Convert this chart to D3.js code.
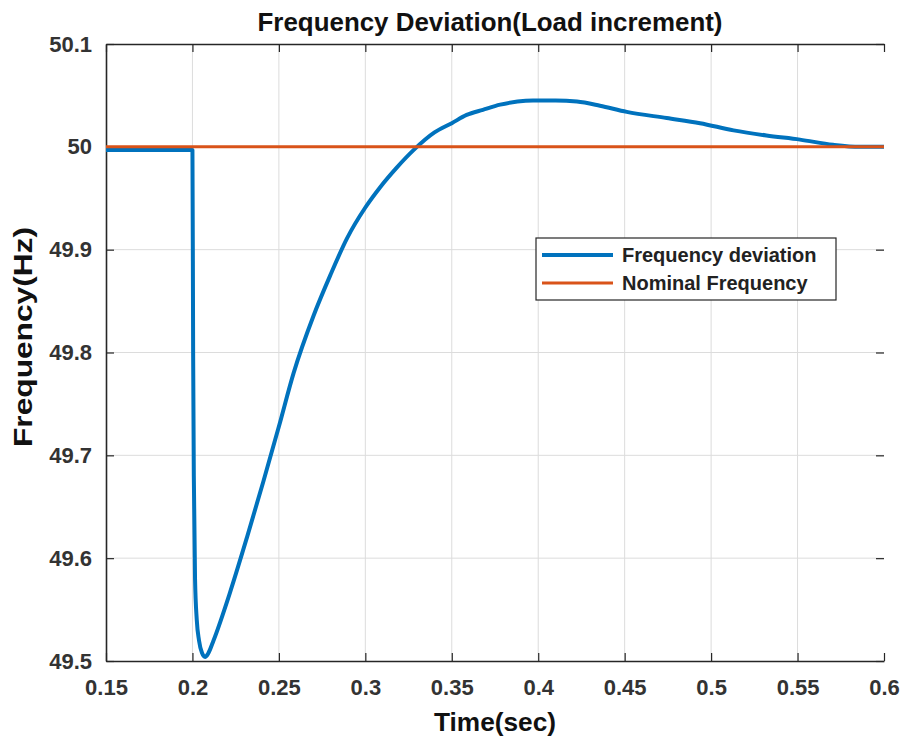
<!DOCTYPE html>
<html>
<head>
<meta charset="utf-8">
<script src="https://cdn.jsdelivr.net/npm/d3@7"></script>
<style>
    body { margin: 0; background: #fff; }
    svg { display: block; font-family: "Liberation Sans", Arial, sans-serif; }
</style>
</head>
<body>
<svg id="chart" width="907" height="740"></svg>
<script>
"use strict";

const timeSec = [0.15, 0.2, 0.2004, 0.2008, 0.2015, 0.2025, 0.2038, 0.2055, 0.2073, 0.209,
    0.2122, 0.2218, 0.2315, 0.2411, 0.25, 0.2585, 0.2701, 0.2797, 0.2894, 0.3,
    0.3087, 0.3183, 0.328, 0.34, 0.35, 0.3586, 0.368, 0.378, 0.388, 0.397,
    0.41, 0.4224, 0.4357, 0.4512, 0.4743, 0.4936, 0.513, 0.532, 0.5514, 0.5705,
    0.586, 0.6];
const freqHz = [49.997, 49.997, 49.8, 49.68, 49.58, 49.54, 49.52, 49.508, 49.504, 49.507,
    49.52, 49.567, 49.62, 49.675, 49.728, 49.78, 49.836, 49.875, 49.911, 49.941,
    49.961, 49.98, 49.997, 50.014, 50.023, 50.031, 50.036, 50.041, 50.044, 50.045,
    50.045, 50.044, 50.04, 50.034, 50.028, 50.023, 50.016, 50.011, 50.007, 50.002,
    50.0, 50.0];
const nominalHz = 50;

const xTicks = [0.15, 0.2, 0.25, 0.3, 0.35, 0.4, 0.45, 0.5, 0.55, 0.6];
const yTicks = [49.5, 49.6, 49.7, 49.8, 49.9, 50, 50.1];
const seriesNames = ["Frequency deviation", "Nominal Frequency"];
const seriesColors = ["#0072BD", "#D95319"];

const svg = d3.select("#chart");
const plot = { left: 106, right: 884, top: 44, bottom: 661 };

const x = d3.scaleLinear().domain([0.15, 0.6]).range([plot.left, plot.right]);
const y = d3.scaleLinear().domain([49.5, 50.1]).range([plot.bottom, plot.top]);

// grid
const grid = svg.append("g").attr("stroke", "#dcdcdc").attr("stroke-width", 1);
grid.selectAll(".gx").data(xTicks.slice(1, -1)).join("line")
    .attr("x1", d => x(d)).attr("x2", d => x(d))
    .attr("y1", plot.top).attr("y2", plot.bottom);
grid.selectAll(".gy").data(yTicks.slice(1, -1)).join("line")
    .attr("x1", plot.left).attr("x2", plot.right)
    .attr("y1", d => y(d)).attr("y2", d => y(d));

// axes
const fmt = d => String(+d.toFixed(2));
const bottomAxis = svg.append("g")
    .attr("transform", `translate(0,${plot.bottom})`)
    .call(d3.axisBottom(x).tickValues(xTicks).tickFormat(fmt).tickSizeInner(-8).tickSizeOuter(0).tickPadding(18));
const leftAxis = svg.append("g")
    .attr("transform", `translate(${plot.left},0)`)
    .call(d3.axisLeft(y).tickValues(yTicks).tickFormat(fmt).tickSizeInner(-8).tickSizeOuter(0).tickPadding(14));
const topAxis = svg.append("g")
    .attr("transform", `translate(0,${plot.top})`)
    .call(d3.axisTop(x).tickValues(xTicks).tickFormat("").tickSizeInner(-8).tickSizeOuter(0));
const rightAxis = svg.append("g")
    .attr("transform", `translate(${plot.right},0)`)
    .call(d3.axisRight(y).tickValues(yTicks).tickFormat("").tickSizeInner(-8).tickSizeOuter(0));
rightAxis.select(".domain").remove();

[bottomAxis, leftAxis, topAxis, rightAxis].forEach(a => {
    a.selectAll(".domain").attr("stroke", "#262626").attr("stroke-width", 1.6);
    a.selectAll(".tick line").attr("stroke", "#262626").attr("stroke-width", 1.2);
    a.selectAll(".tick text")
        .attr("fill", "#333")
        .style("font-size", "22px")
        .style("font-weight", "bold");
});

// series
const line = d3.line().x(d => x(d[0])).y(d => y(d[1])).curve(d3.curveMonotoneX);
svg.append("path")
    .datum(d3.zip(timeSec, freqHz))
    .attr("fill", "none")
    .attr("stroke", seriesColors[0])
    .attr("stroke-width", 4)
    .attr("stroke-linejoin", "round")
    .attr("d", line);
svg.append("path")
    .datum([[0.15, nominalHz], [0.6, nominalHz]])
    .attr("fill", "none")
    .attr("stroke", seriesColors[1])
    .attr("stroke-width", 3)
    .attr("d", line);

// titles
svg.append("text")
    .attr("x", 490).attr("y", 31)
    .attr("text-anchor", "middle")
    .attr("textLength", 465).attr("lengthAdjust", "spacingAndGlyphs")
    .style("font-size", "25px").style("font-weight", "bold").attr("fill", "#111")
    .text("Frequency Deviation(Load increment)");
svg.append("text")
    .attr("x", 495).attr("y", 731)
    .attr("text-anchor", "middle")
    .attr("textLength", 122).attr("lengthAdjust", "spacingAndGlyphs")
    .style("font-size", "25px").style("font-weight", "bold").attr("fill", "#111")
    .text("Time(sec)");
svg.append("text")
    .attr("transform", "translate(32,337) rotate(-90)")
    .attr("text-anchor", "middle")
    .attr("textLength", 220).attr("lengthAdjust", "spacingAndGlyphs")
    .style("font-size", "25px").style("font-weight", "bold").attr("fill", "#111")
    .text("Frequency(Hz)");

// legend
const legend = svg.append("g").attr("transform", "translate(536,238)");
legend.append("rect")
    .attr("width", 300).attr("height", 62)
    .attr("fill", "#fff").attr("stroke", "#262626").attr("stroke-width", 1.2);
const rows = legend.selectAll(".row").data(seriesNames).join("g")
    .attr("transform", (d, i) => `translate(0,${17 + i * 28})`);
rows.append("line")
    .attr("x1", 6).attr("x2", 77)
    .attr("stroke", (d, i) => seriesColors[i])
    .attr("stroke-width", (d, i) => i === 0 ? 4 : 3);
rows.append("text")
    .attr("x", 86).attr("dy", "0.36em")
    .style("font-size", "20px").style("font-weight", "bold").attr("fill", "#222")
    .text(d => d);
</script>
</body>
</html>
